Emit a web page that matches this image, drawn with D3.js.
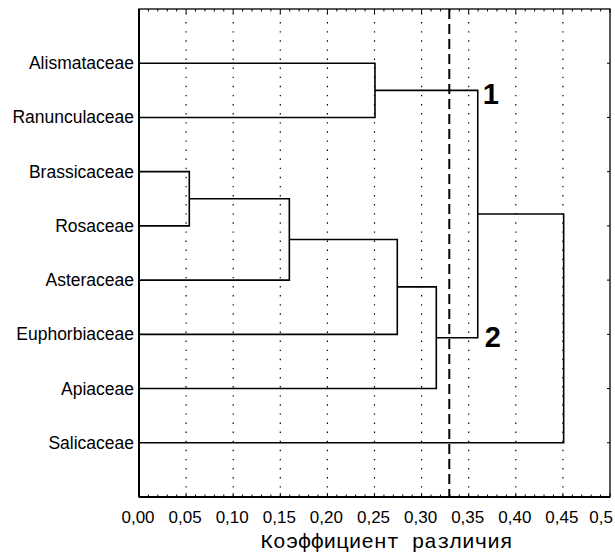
<!DOCTYPE html>
<html>
<head>
<meta charset="utf-8">
<script src="https://cdn.jsdelivr.net/npm/d3@7"></script>
<style>
  html, body { margin: 0; padding: 0; background: #fff; }
  svg { display: block; }
</style>
</head>
<body>
<svg id="chart" width="615" height="554"></svg>
<script>
// ---- data ----
const leaves = ["Alismataceae", "Ranunculaceae", "Brassicaceae", "Rosaceae",
                "Asteraceae", "Euphorbiaceae", "Apiaceae", "Salicaceae"];
// merges: [childA, childB, height]; children are leaf names or merge ids "m0".."m6"
const mergeA = ["Brassicaceae", "m0", "m1", "m2", "Alismataceae", "m4", "m5"];
const mergeB = ["Rosaceae", "Asteraceae", "Euphorbiaceae", "Apiaceae", "Ranunculaceae", "m3", "Salicaceae"];
const mergeHeight = [0.0534, 0.1596, 0.2742, 0.3156, 0.2505, 0.3596, 0.4508];
const cutoff = 0.3294;
const clusterLabels = ["1", "2"];
const clusterNodes = ["m4", "m3"];
const xTicks = [0, 0.05, 0.10, 0.15, 0.20, 0.25, 0.30, 0.35, 0.40, 0.45, 0.50];
const xTickLabels = ["0,00", "0,05", "0,10", "0,15", "0,20", "0,25", "0,30", "0,35", "0,40", "0,45", "0,5"];
const axisTitle = "Коэффициент различия";

// ---- layout ----
const L = 139, R = 610, T = 9, B = 497;
const svg = d3.select("#chart");
const x = d3.scaleLinear().domain([0, 0.5]).range([L, R]);
const y = d3.scalePoint().domain(leaves).range([T, B]).padding(1);

// grid (dotted)
svg.append("g").selectAll("line").data(xTicks.slice(1, -1)).join("line")
  .attr("x1", d => x(d)).attr("x2", d => x(d))
  .attr("y1", T + 4).attr("y2", B)
  .attr("stroke", "#000").attr("stroke-width", 1.2)
  .attr("stroke-dasharray", "1.4,7.7");

// minor ticks top & bottom
const minor = d3.range(0, 51).map(i => i / 100);
svg.append("g").selectAll("line").data(minor).join("line")
  .attr("x1", d => x(d)).attr("x2", d => x(d))
  .attr("y1", T).attr("y2", d => T + (Math.round(d * 100) % 5 === 0 ? 4 : 2.5))
  .attr("stroke", "#000").attr("stroke-width", 1);
svg.append("g").selectAll("line").data(minor).join("line")
  .attr("x1", d => x(d)).attr("x2", d => x(d))
  .attr("y1", B).attr("y2", d => B - (Math.round(d * 100) % 5 === 0 ? 4 : 2.5))
  .attr("stroke", "#000").attr("stroke-width", 1);
// right border ticks at rows
svg.append("g").selectAll("line").data(leaves).join("line")
  .attr("x1", R).attr("x2", R - 3)
  .attr("y1", d => y(d)).attr("y2", d => y(d))
  .attr("stroke", "#000").attr("stroke-width", 1);

// dendrogram
const nodes = {};
leaves.forEach(l => nodes[l] = { h: 0, y: y(l) });
mergeA.forEach((a, i) => {
  const A = nodes[a], Bn = nodes[mergeB[i]], h = mergeHeight[i];
  nodes["m" + i] = { h: h, y: (A.y + Bn.y) / 2 };
  const path = d3.path();
  path.moveTo(x(A.h), A.y);
  path.lineTo(x(h), A.y);
  path.lineTo(x(h), Bn.y);
  path.lineTo(x(Bn.h), Bn.y);
  svg.append("path").attr("d", path.toString())
    .attr("fill", "none").attr("stroke", "#000").attr("stroke-width", 1.6);
});

// cutoff dashed line
svg.append("line")
  .attr("x1", x(cutoff)).attr("x2", x(cutoff))
  .attr("y1", T).attr("y2", B)
  .attr("stroke", "#000").attr("stroke-width", 2)
  .attr("stroke-dasharray", "10,5");

// frame
svg.append("rect").attr("x", L).attr("y", T).attr("width", R - L).attr("height", B - T)
  .attr("fill", "none").attr("stroke", "#000").attr("stroke-width", 1.3);
svg.append("line").attr("x1", L).attr("x2", L).attr("y1", T).attr("y2", B)
  .attr("stroke", "#000").attr("stroke-width", 2);
svg.append("line").attr("x1", L).attr("x2", R).attr("y1", B).attr("y2", B)
  .attr("stroke", "#000").attr("stroke-width", 2);

// leaf labels
svg.append("g").selectAll("text").data(leaves).join("text")
  .attr("x", L - 5).attr("y", d => y(d) + 6)
  .attr("text-anchor", "end")
  .attr("font-family", "Liberation Sans, Arial, sans-serif")
  .attr("font-size", 17.5)
  .text(d => d);

// cluster labels
clusterNodes.forEach((n, i) => {
  const nd = nodes[n];
  const parentH = mergeHeight[5];
  svg.append("text")
    .attr("x", x(parentH) + (i === 0 ? 5 : 7))
    .attr("y", nd.y + (i === 0 ? 14 : 9))
    .attr("font-family", "Liberation Sans, Arial, sans-serif")
    .attr("font-weight", "bold")
    .attr("font-size", 29)
    .text(clusterLabels[i]);
});

// x tick labels
const last = xTicks.length - 1;
svg.append("g").selectAll("text").data(xTicks).join("text")
  .attr("x", (d, i) => i === last ? x(d) + 3 : x(d) - 1)
  .attr("y", 523)
  .attr("text-anchor", (d, i) => i === last ? "end" : "middle")
  .attr("font-family", "Liberation Sans, Arial, sans-serif")
  .attr("font-size", 17)
  .text((d, i) => xTickLabels[i]);

// axis title
svg.append("text")
  .attr("x", (258 + 515) / 2).attr("y", 548)
  .attr("text-anchor", "middle")
  .attr("font-family", "Liberation Mono, Courier New, monospace")
  .attr("font-size", 21)
  .text(axisTitle);
</script>
</body>
</html>
